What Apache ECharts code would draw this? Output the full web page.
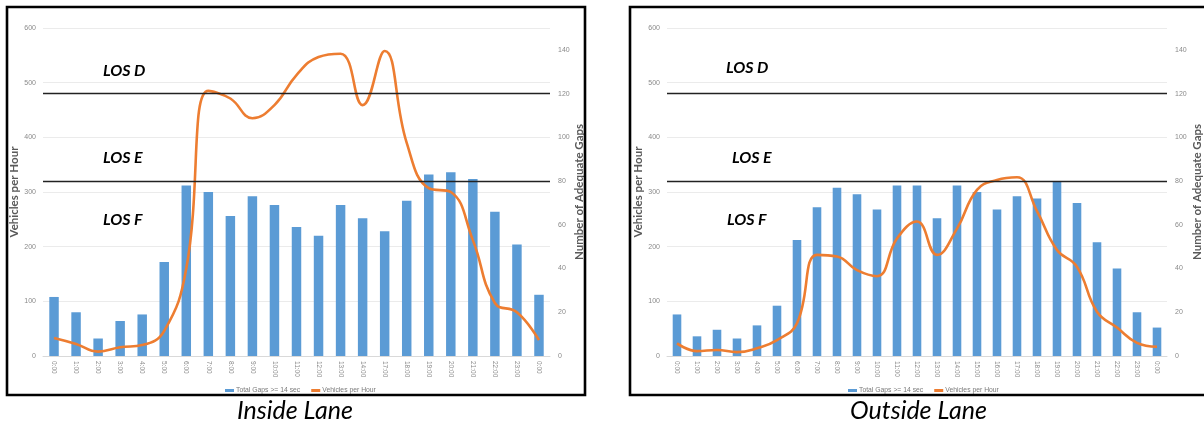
<!DOCTYPE html>
<html>
<head>
<meta charset="utf-8">
<script src="https://cdn.jsdelivr.net/npm/echarts@6/dist/echarts.min.js"></script>
<style>
html,body{margin:0;padding:0;background:#fff;}
#c{width:1204px;height:426px;}
</style>
</head>
<body>
<div id="c"></div>
<script>
// ---- Data ----
var insideHours = ['0:00','1:00','2:00','3:00','4:00','5:00','6:00','7:00','8:00','9:00','10:00','11:00','12:00','13:00','14:00','17:00','18:00','19:00','20:00','21:00','22:00','23:00','0:00'];
var insideGaps = [27,20,8,16,19,43,78,75,64,73,69,59,55,69,63,57,71,83,84,81,66,51,28];
var insideVph = [33,22,8,16,20,46,160,485,471,435,459,514,547,553,459,558,390,307,300,212,97,80,29];

var outsideHours = ['0:00','1:00','2:00','3:00','4:00','5:00','6:00','7:00','8:00','9:00','10:00','11:00','12:00','13:00','14:00','15:00','16:00','17:00','18:00','19:00','20:00','21:00','22:00','23:00','0:00'];
var outsideGaps = [19,9,12,8,14,23,53,68,77,74,67,78,78,63,78,75,67,73,72,80,70,52,40,20,13];
var outsideVph = [23,9,11,7,14,29,60,185,182,157,146,215,246,185,233,304,322,327,265,194,163,81,52,24,17];

var vphTicks = {min:0, max:600, interval:100};
var gapTicks = {min:0, max:150, interval:20};
var losLevels = [480, 320];
var seriesNames = ['Total Gaps >= 14 sec', 'Vehicles per Hour'];
var captions = ['Inside Lane', 'Outside Lane'];

// ---- Styles ----
var BLUE = '#5B9BD5', ORANGE = '#ED7D31', LBL = '#8a8a8a', NAME = '#595959';
var chart = echarts.init(document.getElementById('c'));

function xAxis(idx, cats) {
  return {
    type:'category', gridIndex: idx, data: cats,
    axisLine:{show:true, lineStyle:{color:'#d9d9d9'}},
    axisTick:{show:false},
    axisLabel:{rotate:-90, fontSize:6.5, color:LBL, margin:5, interval:0, fontFamily:'Liberation Sans'}
  };
}
function yLeft(idx, nameGap) {
  return {
    type:'value', gridIndex: idx, position:'left',
    min: vphTicks.min, max: vphTicks.max, interval: vphTicks.interval,
    name:'Vehicles per Hour', nameLocation:'middle', nameRotate:90, nameGap: nameGap,
    nameTextStyle:{fontSize:11.5, fontWeight:'bold', color:NAME, fontFamily:'Lato'},
    axisLine:{show:false}, axisTick:{show:false},
    axisLabel:{fontSize:7, color:LBL, margin:7, fontFamily:'Liberation Sans'},
    splitLine:{show:true, lineStyle:{color:'#ebebeb', width:1}}
  };
}
function yRight(idx, nameGap) {
  return {
    type:'value', gridIndex: idx, position:'right',
    min: gapTicks.min, max: gapTicks.max, interval: gapTicks.interval,
    name:'Number of Adequate Gaps', nameLocation:'middle', nameRotate:90, nameGap: nameGap,
    nameTextStyle:{fontSize:11.5, fontWeight:'bold', color:NAME, fontFamily:'Lato'},
    axisLine:{show:false}, axisTick:{show:false},
    axisLabel:{fontSize:7, color:LBL, margin:8, showMaxLabel:false, fontFamily:'Liberation Sans'},
    splitLine:{show:false}
  };
}
function barSeries(idx, data) {
  return {
    name: seriesNames[0], type:'bar', xAxisIndex: idx, yAxisIndex: idx*2+1,
    data: data, barWidth:'43%', itemStyle:{color:BLUE}, silent:true
  };
}
function lineSeries(idx, data) {
  return {
    name: seriesNames[1], type:'line', xAxisIndex: idx, yAxisIndex: idx*2,
    data: data, smooth:0.45, symbol:'none', lineStyle:{color:ORANGE, width:2.6},
    itemStyle:{color:ORANGE}, z:3, silent:true,
    markLine:{
      silent:true, symbol:['none','none'], label:{show:false},
      lineStyle:{color:'#222', width:1.4, type:'solid'},
      data: losLevels.map(function(v){return {yAxis:v};})
    }
  };
}
function legend(centerX) {
  return {
    left: centerX - 77, top: 382, orient:'horizontal',
    itemWidth:9, itemHeight:3, itemGap:11,
    textStyle:{fontSize:6.8, color:'#7a7a7a', fontFamily:'Liberation Sans', padding:[0,0,0,-3]},
    data:[{name:seriesNames[0], icon:'rect'}, {name:seriesNames[1], icon:'rect'}],
    selectedMode:false
  };
}
function losText(x, y, t) {
  return {type:'text', left:x, top:y, style:{text:t, font:'italic bold 16px Lato', fill:'#000'}};
}

chart.setOption({
  animation:false,
  color:[BLUE, ORANGE],
  grid:[
    {left:43, right:654, top:28, bottom:70},
    {left:667, right:31, top:28, bottom:70}
  ],
  xAxis:[xAxis(0, insideHours), xAxis(1, outsideHours)],
  yAxis:[yLeft(0, 21), yRight(0, 23), yLeft(1, 22), yRight(1, 24)],
  legend:[legend(297), legend(920)],
  series:[
    barSeries(0, insideGaps), lineSeries(0, insideVph),
    barSeries(1, outsideGaps), lineSeries(1, outsideVph)
  ],
  graphic:[
    {type:'rect', shape:{x:7, y:7, width:578, height:388}, style:{fill:'none', stroke:'#000', lineWidth:2.6}, z:10},
    {type:'rect', shape:{x:630, y:7, width:620, height:388}, style:{fill:'none', stroke:'#000', lineWidth:2.6}, z:10},
    losText(103, 63, 'LOS D'), losText(103, 150, 'LOS E'), losText(103, 212, 'LOS F'),
    losText(726, 60, 'LOS D'), losText(732, 150, 'LOS E'), losText(727, 212, 'LOS F'),
    {type:'text', left:237, top:398, style:{text:captions[0], font:'italic 25px Lato', fill:'#000'}},
    {type:'text', left:850, top:398, style:{text:captions[1], font:'italic 25px Lato', fill:'#000'}}
  ]
});
</script>
</body>
</html>
